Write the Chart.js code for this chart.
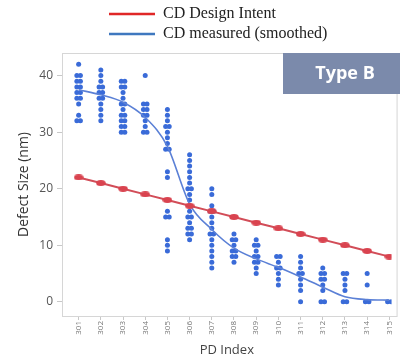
<!DOCTYPE html>
<html>
<head>
<meta charset="utf-8">
<script src="https://cdn.jsdelivr.net/npm/chart.js@4/dist/chart.umd.min.js"></script>
<style>
  body { margin: 0; background: #fff; }
  canvas { display: block; }
</style>
</head>
<body>
<canvas id="mycanvas" width="400" height="358"></canvas>
<script>
var pdIndex = [301, 302, 303, 304, 305, 306, 307, 308, 309, 310, 311, 312, 313, 314, 315];
var designIntent = [22, 21, 20, 19, 18, 17, 16, 15, 14, 13, 12, 11, 10, 9, 8];
var measuredSmoothed = [37.5, 36.6, 35.3, 32.6, 27.5, 17.3, 12.8, 9.5, 7.6, 6.1, 4.4, 2.6, 0.9, 0.4, 0.3];
// raw measurements per PD index (repeated values = several dies at the same size)
var measured = [
  [42, 40, 40, 39, 39, 38, 38, 37, 37, 36, 36, 35, 33, 32, 32],
  [41, 40, 39, 38, 38, 37, 37, 36, 36, 35, 34, 33, 32],
  [39, 39, 38, 38, 37, 36, 35, 35, 34, 33, 33, 32, 32, 31, 31, 30, 30],
  [40, 35, 35, 34, 34, 33, 33, 32, 31, 30, 30],
  [34, 33, 32, 31, 31, 30, 29, 28, 27, 27, 23, 22, 16, 15, 15, 11, 10, 9],
  [26, 25, 24, 23, 22, 21, 20, 20, 19, 18, 17, 16, 15, 15, 14, 13, 13, 12, 12, 11],
  [20, 19, 17, 16, 16, 15, 14, 13, 12, 12, 11, 10, 9, 8, 7, 6],
  [12, 11, 11, 10, 9, 9, 8, 8, 7],
  [11, 10, 10, 9, 8, 8, 7, 7, 6, 5],
  [8, 8, 7, 6, 6, 5, 4, 3],
  [8, 7, 6, 5, 5, 4, 3, 2, 0],
  [6, 5, 5, 4, 4, 3, 2, 0, 0],
  [5, 5, 4, 3, 2, 0, 0],
  [5, 3, 0, 0],
  [0, 0]
];
var yTicks = [0, 10, 20, 30, 40];

// spread duplicate values side by side
var dots = [];
for (var i in measured) {
  var counts = {};
  measured[i].forEach(function(v) { counts[v] = (counts[v] || 0) + 1; });
  Object.keys(counts).forEach(function(v) {
    var n = counts[v];
    for (var k = 0; k < n; k++) {
      dots.push({ x: pdIndex[i] + (k - (n - 1) / 2) * 0.16, y: +v });
    }
  });
}

var redMarker = document.createElement('canvas');
redMarker.width = 10; redMarker.height = 6;
var mc = redMarker.getContext('2d');
mc.fillStyle = '#d9434f';
mc.beginPath();
mc.ellipse(5, 3, 4.8, 2.9, 0, 0, Math.PI * 2);
mc.fill();

var frameAndLabels = {
  id: 'frameAndLabels',
  beforeDatasetsDraw: function(chart) {
    var a = chart.chartArea, c = chart.ctx;
    c.save();
    c.strokeStyle = '#d6d6d6';
    c.lineWidth = 1;
    c.strokeRect(a.left + 0.5, a.top + 0.5, a.right - a.left + 5, a.bottom - a.top);
    c.restore();
  },
  afterDraw: function(chart) {
    var c = chart.ctx, a = chart.chartArea;
    c.save();
    // legend
    var items = chart.data.datasets.filter(function(d) { return d.legendColor; });
    items.forEach(function(d, j) {
      var y = 14 + j * 20;
      c.strokeStyle = d.legendColor;
      c.lineWidth = 2.5;
      c.beginPath(); c.moveTo(109, y); c.lineTo(155, y); c.stroke();
      c.fillStyle = '#222';
      c.font = '16px "Liberation Serif", "Times New Roman", serif';
      c.textBaseline = 'middle';
      c.textAlign = 'left';
      c.fillText(d.label, 163, y);
    });
    // tag
    c.fillStyle = '#7b8aab';
    c.fillRect(283, a.top, 130, 41);
    c.fillStyle = '#fff';
    c.font = 'bold 18px "Open Sans", sans-serif';
    c.textAlign = 'center';
    c.textBaseline = 'middle';
    c.fillText('Type B', 345, a.top + 21);
    c.restore();
  }
};

var ctx = document.getElementById('mycanvas');
var myChart = new Chart(ctx, {
  type: 'scatter',
  data: {
    datasets: [
      {
        type: 'line',
        label: 'CD Design Intent',
        legendColor: '#e02727',
        data: pdIndex.map(function(x, i) { return { x: x, y: designIntent[i] }; }),
        borderColor: '#d24d58',
        borderWidth: 2,
        pointStyle: redMarker,
        pointRadius: 5,
        tension: 0,
        order: 0
      },
      {
        type: 'line',
        label: 'CD measured (smoothed)',
        legendColor: '#3f78bf',
        data: pdIndex.map(function(x, i) { return { x: x, y: measuredSmoothed[i] }; }),
        borderColor: '#5b80d6',
        borderWidth: 1.6,
        pointRadius: 0,
        cubicInterpolationMode: 'monotone',
        order: 1
      },
      {
        label: '',
        data: dots,
        backgroundColor: '#3a6bd8',
        borderWidth: 0,
        pointRadius: 2.5,
        order: 2
      }
    ]
  },
  options: {
    responsive: false,
    animation: false,
    layout: { padding: { top: 53, right: 0, left: 0, bottom: 0 } },
    plugins: { legend: { display: false }, tooltip: { enabled: false } },
    scales: {
      x: {
        type: 'linear',
        min: 300.25,
        max: 315.1,
        afterFit: function(s) { s.height = 42; },
        afterBuildTicks: function(s) { s.ticks = pdIndex.map(function(v) { return { value: v }; }); },
        border: { color: '#d0d0d0' },
        grid: { drawOnChartArea: false, tickLength: 4, color: '#c8c8c8' },
        ticks: {
          autoSkip: false, minRotation: 90, maxRotation: 90, padding: 1,
          color: '#777', font: { size: 8, family: '"Open Sans", sans-serif' },
          callback: function(v) { return String(v); }
        },
        title: {
          display: true, text: 'PD Index', color: '#444',
          font: { size: 13, family: '"Open Sans", sans-serif' },
          padding: { top: 0, bottom: 0 }
        }
      },
      y: {
        min: -2.5,
        max: 44,
        afterFit: function(s) { s.width = 62; },
        afterBuildTicks: function(s) { s.ticks = yTicks.map(function(v) { return { value: v }; }); },
        border: { color: '#d0d0d0' },
        grid: { drawOnChartArea: false, tickLength: 5, color: '#c8c8c8' },
        ticks: { padding: 4, color: '#555', font: { size: 12, family: '"Open Sans", sans-serif' } },
        title: {
          display: true, text: 'Defect Size (nm)', color: '#333',
          font: { size: 14, family: '"Open Sans", sans-serif' },
          padding: { top: 16, bottom: 0 }
        }
      }
    }
  },
  plugins: [frameAndLabels]
});
</script>
</body>
</html>
